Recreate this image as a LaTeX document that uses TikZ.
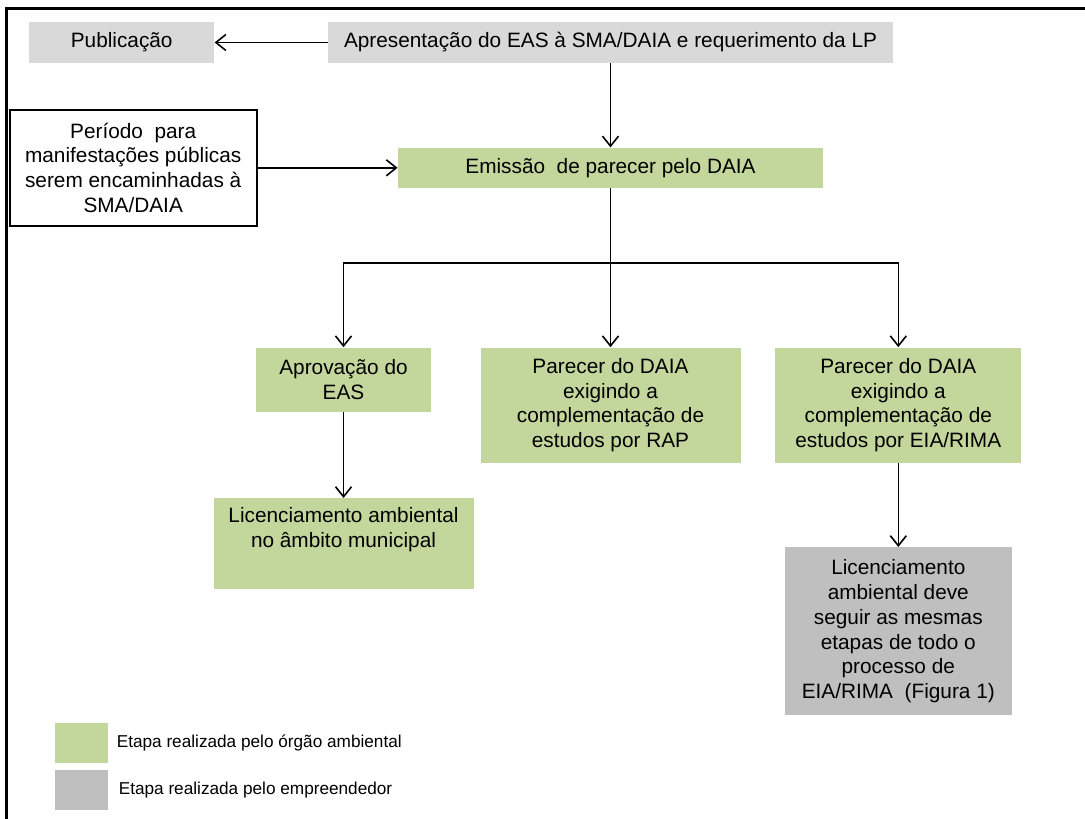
\documentclass[tikz,border=0pt]{standalone}
\usepackage{fontspec}
\setmainfont{Liberation Sans}
\usepackage{tikz}
\usetikzlibrary{arrows.meta,positioning,calc}

\definecolor{agencygreen}{HTML}{C3D69B}
\definecolor{stepgray}{HTML}{D9D9D9}
\definecolor{ownergray}{HTML}{BFBFBF}

\newcommand{\boxfont}{\fontsize{10.4}{12.4}\selectfont}
\newcommand{\legfont}{\fontsize{8.6}{10}\selectfont}

\begin{document}
\begin{tikzpicture}[x=0.5pt, y=-0.5pt,
    agency/.style={rectangle, fill=agencygreen, align=center, inner sep=3pt, font=\boxfont},
    owner/.style={rectangle, fill=ownergray, align=center, inner sep=3pt, font=\boxfont},
    top/.style={rectangle, fill=stepgray, align=center, inner sep=3pt, font=\boxfont, minimum height=20.5pt},
    public/.style={rectangle, draw, line width=0.9pt, fill=white, align=center, inner sep=3pt, font=\boxfont},
    legbox/.style={rectangle, minimum width=26.5pt, minimum height=20pt, inner sep=0pt},
    legtext/.style={inner sep=0pt, font=\legfont, anchor=west},
    arrow/.style={line width=0.8pt, -{Straight Barb[length=5pt,width=8pt]}},
    link/.style={line width=0.8pt}
]
\useasboundingbox (0,0) rectangle (1085,818);

% frame
\draw [line width=1.5pt] (6,9) rectangle (1100,830);

% Top row
\node [top, minimum width=282.5pt] (apres) at (610.5,42.5) {Apresentação do EAS à SMA/DAIA e requerimento da LP};
\node [top, minimum width=92.5pt, left=56.5pt of apres] (pub) {Publicação};

% DAIA opinion
\node [agency, minimum width=212.5pt, minimum height=20pt, below=42pt of apres] (emis) {Emissão\ \ de parecer pelo DAIA};
\node [public, minimum width=123.5pt, minimum height=58pt, left=70pt of emis] (periodo) {Período\ \ para\\manifestações públicas\\serem encaminhadas à\\SMA/DAIA};

% Outcomes
\node [agency, minimum width=130pt, minimum height=57.5pt, below=79.5pt of emis] (rap) {Parecer do DAIA\\exigindo a\\complementação de\\estudos por RAP};
\node [agency, minimum width=87.5pt, minimum height=32pt, below=79.5pt of emis, xshift=-133.5pt] (aprov) {Aprovação do\\EAS};
\node [agency, minimum width=123pt, minimum height=57.5pt, right=17pt of rap] (eia) {Parecer do DAIA\\exigindo a\\complementação de\\estudos por EIA/RIMA};

% Licensing
\node [agency, minimum width=130pt, inner ysep=4.5pt, text depth=16.5pt, below=43pt of aprov] (munic) {Licenciamento ambiental\\no âmbito municipal};
\node [owner, minimum width=113.5pt, minimum height=84pt, below=42pt of eia] (seguir) {Licenciamento\\ambiental\ deve\\seguir as mesmas\\etapas de todo o\\processo de\\EIA/RIMA\ \ (Figura 1)};

% Arrows
\coordinate [below=37.5pt of emis.south] (split);
\draw [arrow] (apres) -- (pub);
\draw [arrow] (apres) -- (emis);
\draw [arrow] (periodo) -- (emis);
\draw [arrow] (emis) -- (rap);
\draw [arrow] (split) -| (aprov);
\draw [arrow] (split) -| (eia);
\draw [arrow] (aprov) -- (munic);
\draw [arrow] (eia) -- (seguir);

% Legend
\node [legbox, fill=agencygreen] (leggreen) at (81.5,743) {};
\node [legbox, fill=ownergray, below=3pt of leggreen] (leggray) {};
\node [legtext, right=4pt of leggreen] (legagency) {Etapa realizada pelo órgão ambiental};
\node [legtext, right=5pt of leggray] (legowner) {Etapa realizada pelo empreendedor};

\end{tikzpicture}
\end{document}
